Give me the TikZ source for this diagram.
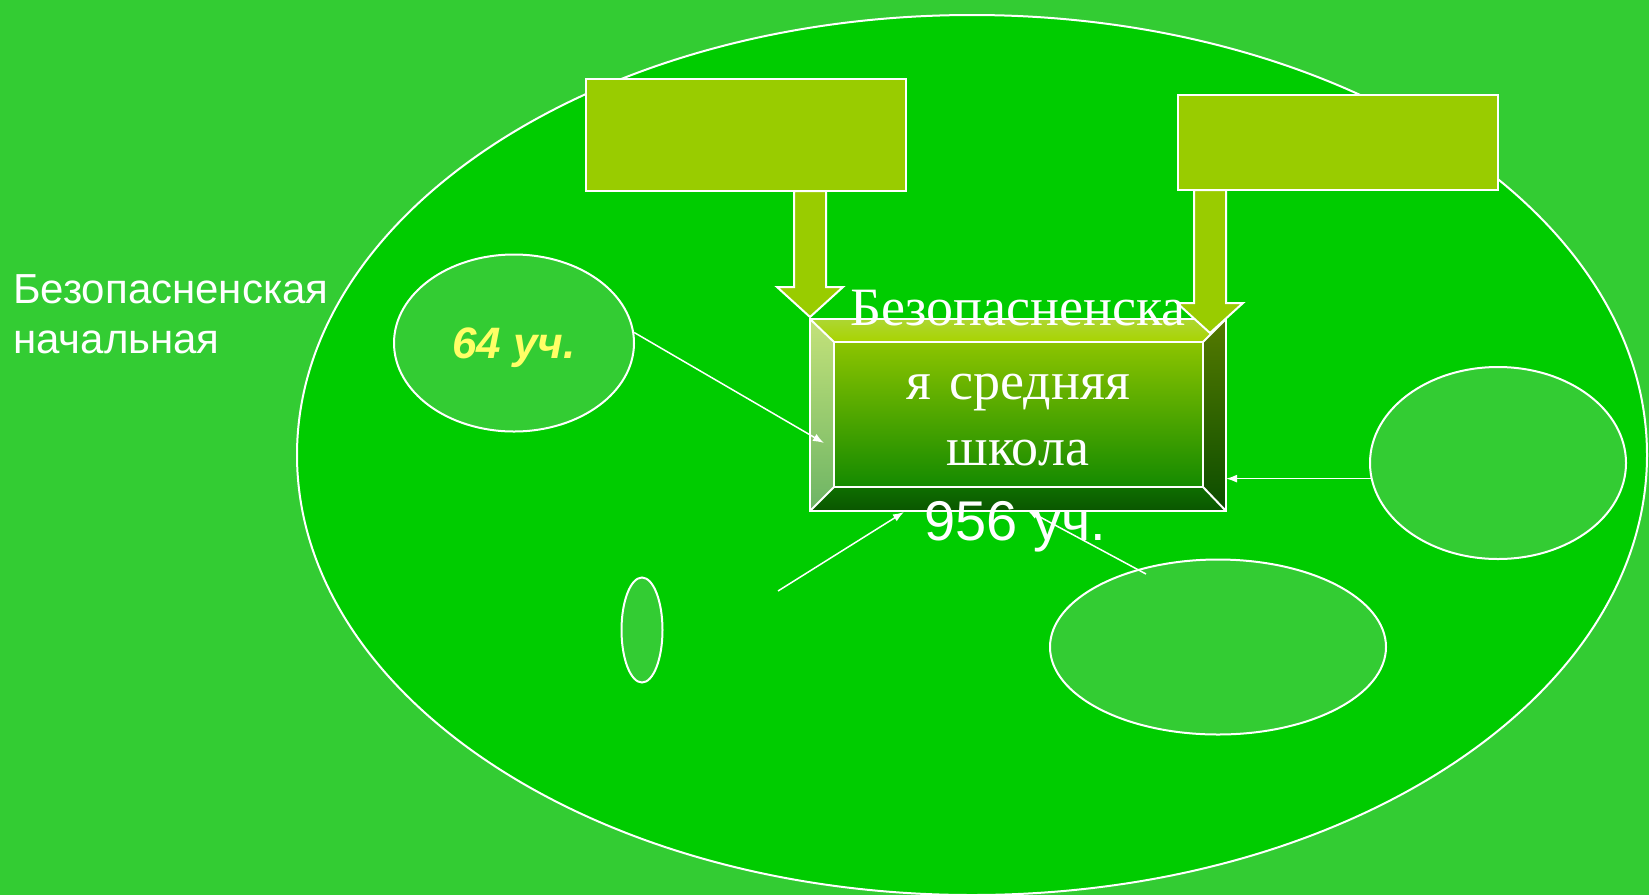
\documentclass[tikz,border=0pt]{standalone}
\usepackage{fontspec}
\setmainfont{Liberation Serif}
\newfontfamily\ruSans{Liberation Sans}
\usetikzlibrary{arrows.meta,calc,shapes.geometric}

\definecolor{bgGreen}{HTML}{33CC33}
\definecolor{fieldGreen}{HTML}{00CC00}
\definecolor{boxGreen}{HTML}{99CC00}
\definecolor{numYellow}{HTML}{FFFF66}

\tikzset{
  oval/.style={ellipse, draw=white, line width=2pt, fill=bgGreen, inner sep=0pt},
  topbox/.style={rectangle, draw=white, line width=2pt, fill=boxGreen, minimum width=320pt, outer sep=0pt},
  blockarrow/.style={draw=white, line width=2pt, fill=boxGreen},
  conn/.style={draw=white, line width=1.5pt, -{Latex[length=11pt,width=8pt]}},
  bevel/.style={draw=white, line width=2pt},
  lbl/.style={text=white, font=\ruSans\fontsize{42}{50}\selectfont, inner sep=0pt, anchor=base west},
  schooltxt/.style={text=white, font=\fontsize{54}{70}\selectfont, inner sep=0pt, anchor=base}
}

\begin{document}
\begin{tikzpicture}[x=1pt, y=-1pt]
  \useasboundingbox (0,0) rectangle (1649,895);
  \fill[bgGreen] (0,0) rectangle (1649,895);
  % district
  \node[ellipse, draw=white, line width=2pt, fill=fieldGreen, minimum width=1350pt, minimum height=880pt] (district) at (972,455) {};
  % upper boxes
  \node[topbox, minimum height=112pt] (boxA) at (746,135) {};
  \node[topbox, minimum height=95pt] (boxB) at (1338,142.5) {};
  % schools
  \node[oval, minimum width=240pt, minimum height=177pt, text=numYellow,
        font=\ruSans\bfseries\itshape\fontsize{44}{50}\selectfont, text depth=0pt] (e64) at (514,343) {64 уч.};
  \node[oval, minimum width=41pt, minimum height=105pt] (eSmall) at (642,630) {};
  \node[oval, minimum width=256pt, minimum height=192pt] (eRight) at (1498,463) {};
  \node[oval, minimum width=336pt, minimum height=175pt] (eBottom) at (1218,647) {};
  % main school
  \node[minimum width=416pt, minimum height=192pt, inner sep=0pt, outer sep=0pt] (school) at (1018,415) {};
  \coordinate (i1) at ($(school.north west)+(24,23)$);
  \coordinate (i2) at ($(school.north east)+(-23,23)$);
  \coordinate (i3) at ($(school.south east)+(-23,-24)$);
  \coordinate (i4) at ($(school.south west)+(24,-24)$);
  \shade[top color=white!20!boxGreen, bottom color=boxGreen!85!yellow] (school.north west) -- (school.north east) -- (i2) -- (i1) -- cycle;
  \shade[top color={rgb,255:red,196;green,226;blue,122}, bottom color={rgb,255:red,108;green,180;blue,100}] (school.north west) -- (i1) -- (i4) -- (school.south west) -- cycle;
  \shade[top color={rgb,255:red,85;green,122;blue,0}, bottom color={rgb,255:red,11;green,77;blue,0}] (school.north east) -- (school.south east) -- (i3) -- (i2) -- cycle;
  \shade[top color={rgb,255:red,14;green,110;blue,0}, bottom color={rgb,255:red,10;green,86;blue,0}] (school.south west) -- (i4) -- (i3) -- (school.south east) -- cycle;
  \shade[top color={rgb,255:red,140;green,196;blue,0}, bottom color={rgb,255:red,20;green,138;blue,0}] (i1) rectangle (i3);
  \draw[bevel] (school.north west) rectangle (school.south east);
  \draw[bevel] (i1) rectangle (i3);
  \draw[bevel] (school.north west) -- (i1) (school.north east) -- (i2)
               (school.south east) -- (i3) (school.south west) -- (i4);
  % block arrows
  \coordinate (aTop) at (boxA.south -| school.north west);
  \coordinate (aTip) at ($(school.north west)+(0,-2)$);
  \draw[blockarrow] (aTop) ++(-16,0) -- ++(32,0) |- ($(aTip)+(16,-30)$) -- ++(17,0)
    -- (aTip) -- ++(-33,-30) -- ++(17,0) -- cycle;
  \coordinate (bTop) at ($(boxB.south west)+(32,0)$);
  \coordinate (bTip) at ($(school.north east)+(-16,14)$);
  \draw[blockarrow] (bTop) ++(-16,0) -- ++(32,0) |- ($(bTip)+(16,-30)$) -- ++(17,0)
    -- (bTip) -- ++(-33,-30) -- ++(17,0) -- cycle;
  % connectors
  \coordinate (t64) at ($(school.west)+(14,28)$);
  \coordinate (fromSmall) at (778,591);
  \coordinate (fromBottom) at ($(eBottom.center)+(-72,-73)$);
  \draw[conn] (e64.5) -- (t64);
  \draw[conn] (eRight.187) -- (eRight.187 -| school.east);
  \draw[conn] (fromSmall) -- ($(school.south west)+(94,1)$);
  \draw[conn] (fromBottom) -- ($(school.south west)+(217,-1)$);
  % labels
  \node[lbl] (ruLine1) at (13,303) {Безопасненская};
  \node[lbl] (ruLine2) at (13,353) {начальная};
  \node[schooltxt] (s1) at (1018,325) {Безопасненска};
  \node[schooltxt] (s2) at (1018,399) {я\hspace{0.35em}средняя};
  \node[schooltxt] (s3) at (1018,465) {школа};
  \node[text=white, font=\ruSans\fontsize{56}{60}\selectfont, inner sep=0pt, anchor=base west] (count) at (924,540) {956 уч.};
\end{tikzpicture}
\end{document}
